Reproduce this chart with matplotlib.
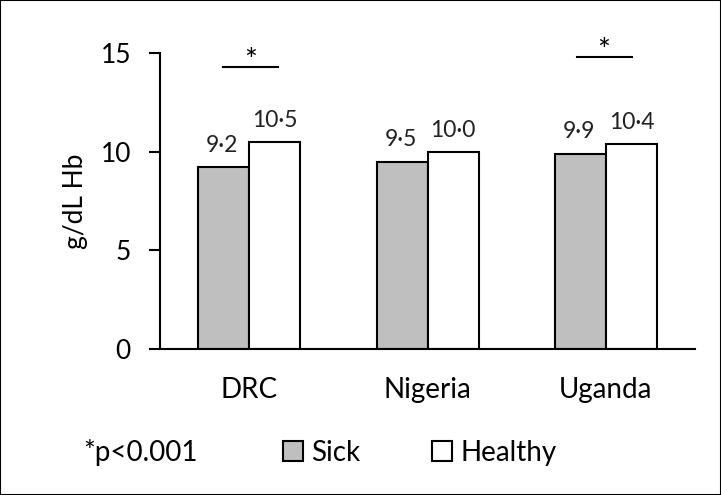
import numpy as np
import matplotlib
matplotlib.use('Agg')
import matplotlib.pyplot as plt
from matplotlib.patches import Rectangle

plt.rcParams['font.family'] = ['Lato', 'DejaVu Sans']

countries = ['DRC', 'Nigeria', 'Uganda']
sick = [9.2, 9.5, 9.9]
healthy = [10.5, 10.0, 10.4]
sick_labels = ['9·2', '9·5', '9·9']
healthy_labels = ['10·5', '10·0', '10·4']
yticks = [0, 5, 10, 15]

fig = plt.figure(figsize=(7.21, 4.95), dpi=100)
ax = fig.add_axes([0.222, 0.295, 0.742, 0.598])

x = np.arange(len(countries))
w = 0.286
b1 = ax.bar(x - w / 2, sick, w, color='#bfbfbf', edgecolor='black', linewidth=1.5, label='Sick')
b2 = ax.bar(x + w / 2, healthy, w, color='white', edgecolor='black', linewidth=1.5, label='Healthy')

for i in range(len(countries)):
    ax.annotate(sick_labels[i], (x[i] - w / 2, sick[i]), xytext=(-1, 8), textcoords='offset points',
                ha='center', va='bottom', fontsize=16.5, color='#222222')
    ax.annotate(healthy_labels[i], (x[i] + w / 2, healthy[i]), xytext=(0, 8), textcoords='offset points',
                ha='center', va='bottom', fontsize=16.5, color='#222222')

# significance markers
ax.plot([x[0] - 0.146, x[0] + 0.16], [14.3, 14.3], color='black', lw=1.5, clip_on=False)
ax.text(x[0] + 0.01, 14.6, '*', ha='center', va='center', fontsize=22)
ax.plot([x[2] - 0.16, x[2] + 0.146], [14.8, 14.8], color='black', lw=1.5, clip_on=False)
ax.text(x[2] - 0.01, 15.1, '*', ha='center', va='center', fontsize=22)

ax.set_xlim(-0.5, 2.5)
ax.set_ylim(0, 15)
ax.set_yticks(yticks)
ax.set_xticks(x)
ax.set_xticklabels(countries, fontsize=20)
ax.tick_params(axis='x', length=0, pad=20)
ax.tick_params(axis='y', direction='out', length=8, width=1.5, labelsize=19, pad=13)
ax.spines['top'].set_visible(False)
ax.spines['right'].set_visible(False)
ax.spines['left'].set_linewidth(1.5)
ax.spines['bottom'].set_linewidth(1.5)
ax.set_ylabel('g/dL Hb', fontsize=19, labelpad=9)

fig.text(0.115, 0.085, '*p<0.001', fontsize=20, ha='left', va='center')
fig.legend(handles=[b1, b2], loc='center left', bbox_to_anchor=(0.358, 0.085), ncol=2,
           frameon=False, fontsize=20, handlelength=0.7, handleheight=0.7,
           handletextpad=0.3, columnspacing=2.6)

fig.patches.append(Rectangle((0, 0), 1, 1, transform=fig.transFigure, fill=False,
                             edgecolor='black', linewidth=1.5))

plt.savefig('out.png', dpi=100)
